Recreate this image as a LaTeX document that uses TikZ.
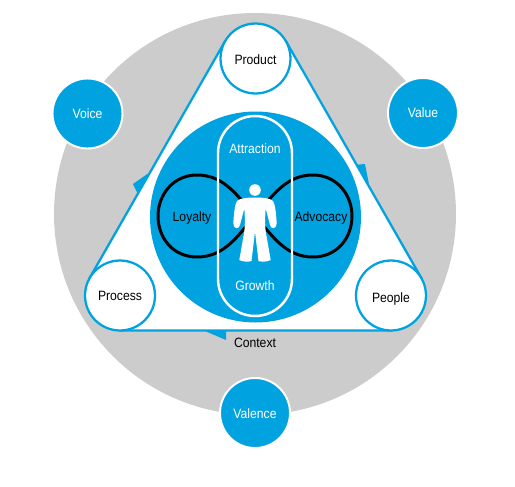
\documentclass[tikz,border=0pt]{standalone}
\usepackage{fontspec}
\setmainfont[FakeStretch=0.9]{Liberation Sans}
\definecolor{ringblue}{RGB}{0,163,224}
\definecolor{ringgray}{RGB}{204,204,204}
\newcommand{\balltext}[2]{\raisebox{#1}[0pt][0pt]{#2}}
\tikzset{
  lab/.style={font=\fontsize{7.7}{9}\selectfont, text=black, inner sep=0pt},
  inlab/.style={lab, text=white},
  outerball/.style={circle, draw=white, fill=ringblue, line width=1.1pt, minimum size=1.4cm, inner sep=0pt, font=\fontsize{7.7}{9}\selectfont, text=white},
  innerball/.style={circle, draw=ringblue, fill=white, line width=1.3pt, minimum size=1.4cm, inner sep=0pt, font=\fontsize{7.7}{9}\selectfont, text=black},
}

\begin{document}
\begin{tikzpicture}[x=0.02cm,y=-0.02cm]
  \useasboundingbox (0,0) rectangle (515,487);
  \fill[ringgray] (255,214) circle (201);
  \coordinate (hullA) at (225.1,41.1);
  \coordinate (hullB) at (285.9,41.1);
  \coordinate (hullC) at (421.4,278.1);
  \coordinate (hullD) at (391,330.5);
  \coordinate (hullE) at (120,330.5);
  \coordinate (hullF) at (89.6,278.1);
  \fill[ringblue] (153,170) -- (133,184) -- (139,196) -- cycle;
  \fill[ringblue] (354,165) -- (365,164) -- (369,184) -- cycle;
  \fill[ringblue] (205,331) -- (226,340) -- (226,331) -- cycle;
  \draw[ringblue, fill=white, line width=1.3pt] (hullA) -- (hullB) -- (hullC) -- (hullD) -- (hullE) -- (hullF) -- cycle;
  \fill[ringblue] (255.5,217) circle (105.5);
  % figure of eight behind the capsule
  \draw[black, line width=1.7pt] (255,216)
    .. controls (238,197) and (225,175) .. (197,175)
    .. controls (173,175) and (158,195) .. (158,216)
    .. controls (158,238) and (173,257) .. (197,257)
    .. controls (225,257) and (238,235) .. (255,216)
    .. controls (272,197) and (285,175) .. (313,175)
    .. controls (337,175) and (352,195) .. (352,216)
    .. controls (352,238) and (337,257) .. (313,257)
    .. controls (285,257) and (272,235) .. (255,216) -- cycle;
  \node[draw=white, line width=1.4pt, minimum width=1.48cm, minimum height=4cm, rounded corners=0.74cm, inner sep=0pt] (capsule) at (255,216) {};
  % person
  \fill[white] (255,190) circle (5.8);
  \fill[white] (255,197.5)
    .. controls (262,197.5) and (270,198) .. (273,201)
    .. controls (275,204) and (276,212) .. (276.7,223)
    .. controls (277,229) and (271,230) .. (270,225)
    -- (265.7,208.5)
    .. controls (265,215) and (265,225) .. (265.7,231.7)
    -- (270.7,260)
    .. controls (267,262) and (261,262) .. (258.5,261)
    -- (255,231.7) -- (251.5,261)
    .. controls (249,262) and (243,262) .. (239.3,260)
    -- (244.3,231.7)
    .. controls (245,225) and (245,215) .. (244.3,208.5)
    -- (240,225)
    .. controls (239,230) and (233,229) .. (233.3,223)
    .. controls (234,212) and (235,204) .. (237,201)
    .. controls (240,198) and (248,197.5) .. (255,197.5) -- cycle;
  \node[inlab] (attraction) at (255,149) {Attraction};
  \node[inlab] (growth) at (255,286) {Growth};
  \node[lab] (loyalty) at (192,218) {Loyalty};
  \node[lab] (advocacy) at (321,218) {Advocacy};
  \node[innerball] (product) at (255.5,58.5) {\balltext{-3.6pt}{Product}};
  \node[innerball] (process) at (120,295.5) {\balltext{-3.1pt}{Process}};
  \node[innerball] (people) at (391,295.5) {\balltext{-4.2pt}{People}};
  \node[lab] (context) at (255,343) {Context};
  \node[outerball] (voice) at (87.5,113.5) {\balltext{-3.1pt}{Voice}};
  \node[outerball] (value) at (423,113) {\balltext{-2.8pt}{Value}};
  \node[outerball] (valence) at (255,413) {\balltext{-3.4pt}{Valence}};
\end{tikzpicture}
\end{document}
